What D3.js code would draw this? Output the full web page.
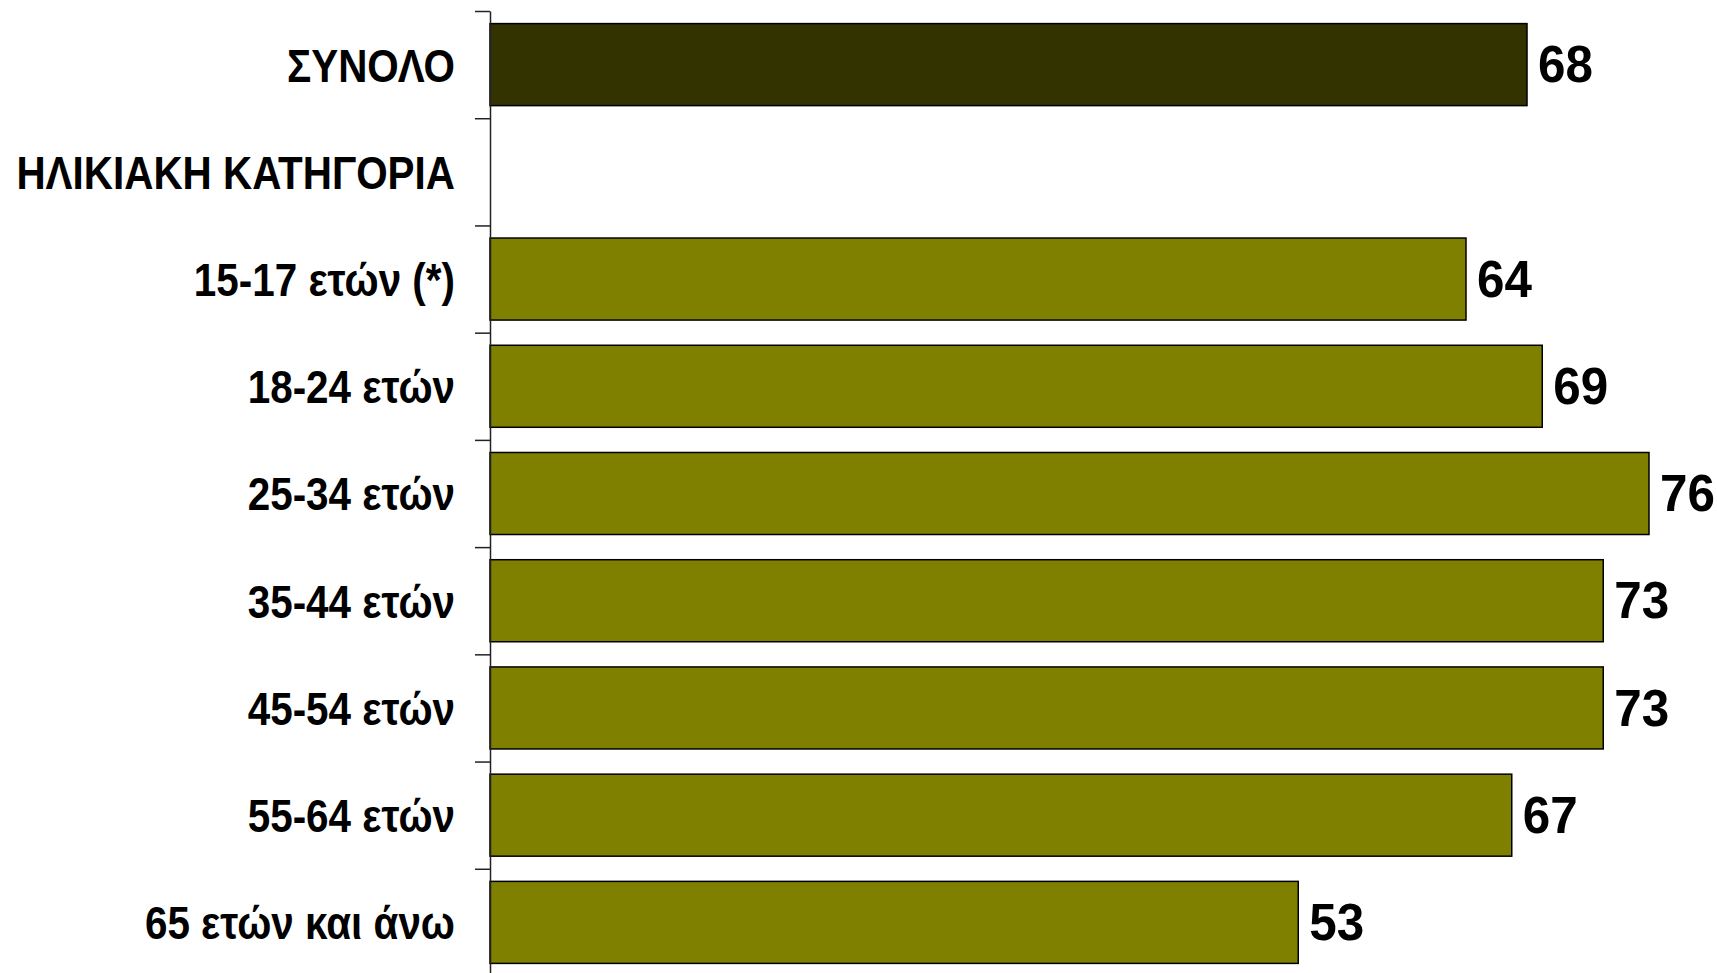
<!DOCTYPE html>
<html>
<head>
<meta charset="utf-8">
<script src="https://cdn.jsdelivr.net/npm/d3@7"></script>
<style>
  html, body { margin: 0; padding: 0; background: #ffffff; }
  svg { display: block; }
  .lbl { font-family: "Liberation Sans", Arial, sans-serif; font-weight: bold; fill: #000; }
</style>
</head>
<body>
<svg id="chart" width="1717" height="973"></svg>
<script>
// Categories top to bottom; null marks the section heading row (no bar)
const categories = [
  "ΣΥΝΟΛΟ",
  "ΗΛΙΚΙΑΚΗ ΚΑΤΗΓΟΡΙΑ",
  "15-17 ετών (*)",
  "18-24 ετών",
  "25-34 ετών",
  "35-44 ετών",
  "45-54 ετών",
  "55-64 ετών",
  "65 ετών και άνω"
];
const values = [68, null, 64, 69, 76, 73, 73, 67, 53];
const totalRow = "ΣΥΝΟΛΟ";

const chartW = 1717, chartH = 973;
const axisX = 490;
const plotTop = 11, plotBottom = 976;
const labelRight = 455;
const labelSqueeze = 0.86;  // narrow face for the category labels
const valueSqueeze = 0.95;  // slightly condensed value digits

const svg = d3.select("#chart");

const x = d3.scaleLinear().domain([0, 80]).range([axisX, axisX + 80 * 15.25]);
const y = d3.scaleBand()
  .domain(categories)
  .range([plotTop, plotBottom])
  .paddingInner(0.235)
  .paddingOuter(0.1175);

// category boundaries for the tick marks
const idx = d3.scaleLinear().domain([0, categories.length]).range([plotTop, plotBottom]);

const rows = categories.map((c, i) => ({ cat: c, v: values[i] }));

// bars
svg.append("g")
  .selectAll("rect")
  .data(rows.filter(d => d.v !== null))
  .join("rect")
  .attr("x", x(0))
  .attr("y", d => y(d.cat))
  .attr("width", d => x(d.v) - x(0))
  .attr("height", y.bandwidth())
  .attr("fill", d => d.cat === totalRow ? "#333300" : "#808000")
  .attr("stroke", "#000")
  .attr("stroke-width", 1.5);

// value labels
svg.append("g")
  .selectAll("text")
  .data(rows.filter(d => d.v !== null))
  .join("text")
  .attr("class", "lbl")
  .attr("transform", d => `translate(${x(d.v) + 11},${y(d.cat) + y.bandwidth() / 2}) scale(${valueSqueeze},1)`)
  .attr("dy", "0.34em")
  .attr("font-size", 52)
  .text(d => d.v);

// vertical axis with ticks between categories
const axis = svg.append("g")
  .attr("transform", `translate(${axisX},0)`)
  .call(d3.axisLeft(idx)
    .tickValues(d3.range(0, categories.length + 1))
    .tickSize(15)
    .tickSizeOuter(0)
    .tickFormat(""));
axis.selectAll("path, line").attr("stroke", "#222").attr("stroke-width", 1.5);

// category labels
svg.append("g")
  .selectAll("text")
  .data(rows)
  .join("text")
  .attr("class", "lbl")
  .attr("transform", d => `translate(${labelRight},${y(d.cat) + y.bandwidth() / 2}) scale(${labelSqueeze},1)`)
  .attr("dy", "0.36em")
  .attr("text-anchor", "end")
  .attr("font-size", 47)
  .text(d => d.cat);
</script>
</body>
</html>
